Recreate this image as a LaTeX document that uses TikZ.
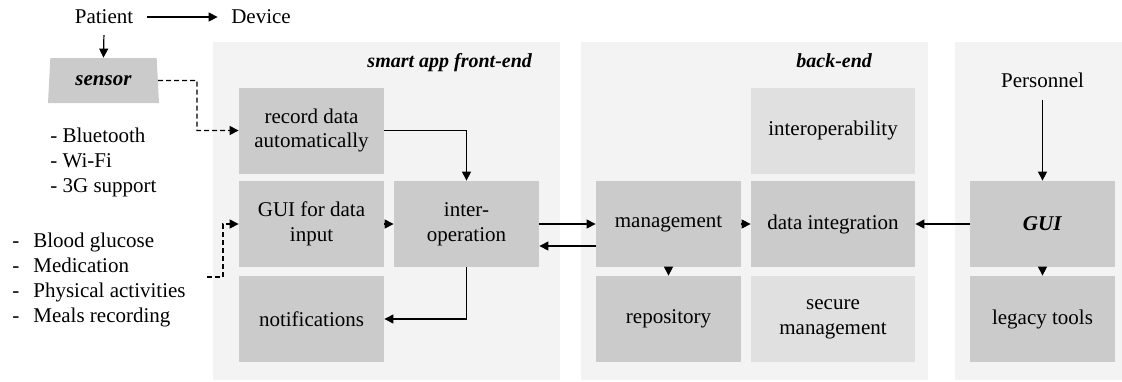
\documentclass[tikz,border=0pt]{standalone}
\usepackage{fontspec}
\setmainfont{Liberation Serif}
\usetikzlibrary{arrows.meta,shapes.geometric}

\definecolor{panegrey}{HTML}{F3F3F3}
\definecolor{boxgrey}{HTML}{CBCBCB}
\definecolor{softgrey}{HTML}{E0E0E0}

\tikzset{
	blk/.style={fill=boxgrey, minimum width=72.5pt, minimum height=43pt, inner sep=0pt, align=center},
	softblk/.style={blk, fill=softgrey},
	pane/.style={fill=panegrey},
	title/.style={anchor=base east, font=\bfseries\itshape},
	item/.style={anchor=base west, inner sep=0pt},
	link/.style={->, line width=0.6pt},
	wire/.style={link, dash pattern=on 2.5pt off 1.5pt},
}

\begin{document}
\begin{tikzpicture}[x=0.5pt, y=-0.5pt, >={Triangle[length=4.5pt,width=4.5pt]}, font=\fontsize{10.5}{12.4}\selectfont]
	\useasboundingbox (0,0) rectangle (1122,381);

	\fill[pane] (213,42) rectangle (560,380);
	\fill[pane] (581,42) rectangle (928,380);
	\fill[pane] (955,42) rectangle (1122,380);
	\node (fronttitle) at (539,67) [title] {smart app front-end};
	\node (backtitle) at (879,67) [title] {back-end};

	\node (patient) at (104,17) {Patient};
	\node (device) at (261,17) {Device};
	\node (sensor) at (103.5,80.5) [trapezium, trapezium left angle=77, trapezium right angle=77,
		trapezium stretches body, fill=boxgrey, minimum width=55.5pt, minimum height=22.5pt,
		inner sep=0pt] {\textbf{\textit{sensor}}};

	\foreach \txt [count=\i] in {Bluetooth, Wi-Fi, 3G support}
		\node (radio\i) at (50,117+25*\i) [item] {- \txt};
	\foreach \txt [count=\i] in {Blood glucose, Medication, Physical activities, Meals recording}
		\node (entry\i) at (12,221.7+25.3*\i) [item] {\makebox[10.5pt][l]{-}\txt};

	\node (record) at (311.5,130.5) [blk] {record data\\automatically};
	\node (guiin) at (311.5,224) [blk] {GUI for data\\input};
	\node (notif) at (311.5,319) [blk] {notifications};
	\node (interop) at (466.5,224) [blk] {inter-\\operation};

	\node (mgmt) at (668.5,224) [blk] {management};
	\node (repo) at (668.5,319) [blk] {repository};
	\node (interopb) at (833,130.5) [softblk, minimum width=82pt] {interoperability};
	\node (dataint) at (833,224) [blk, minimum width=82pt] {data integration};
	\node (secure) at (833,319) [softblk, minimum width=82pt] {secure\\management};

	\node (staff) at (1042.5,87) [anchor=base] {Personnel};
	\node (gui) at (1042.5,224) [blk] {\textbf{\textit{GUI}}};
	\node (legacy) at (1042.5,319) [blk] {legacy tools};

	\draw[link, shorten <=3.5pt, shorten >=3.3pt] (patient.east) -- (device.west);
	\draw[link, shorten <=2pt] (patient.south) -- (sensor.north);

	\coordinate (sbend) at (197,80.5);
	\draw[wire] (sensor.east) -- (sbend) |- (record.west);
	\coordinate (listend) at (207,277);
	\coordinate (lbend) at (223,277);
	\draw[wire] (listend) -- (lbend) |- (guiin.west);

	\draw[link] (record.east) -| (interop.north);
	\draw[link] (guiin.east) -- (interop.west);
	\draw[link] (interop.south) |- (notif.east);
	\draw[link] (interop.east) -- (mgmt.west);
	\draw[link] ([yshift=-11pt]mgmt.west) -- ([yshift=-11pt]interop.east);
	\draw[link] (mgmt.east) -- (dataint.west);
	\draw[link] (mgmt.south) -- (repo.north);
	\draw[link] (gui.west) -- (dataint.east);
	\draw[link] (gui.south) -- (legacy.north);
	\draw[link, shorten <=2.7pt] (staff.south) -- (gui.north);
\end{tikzpicture}
\end{document}
